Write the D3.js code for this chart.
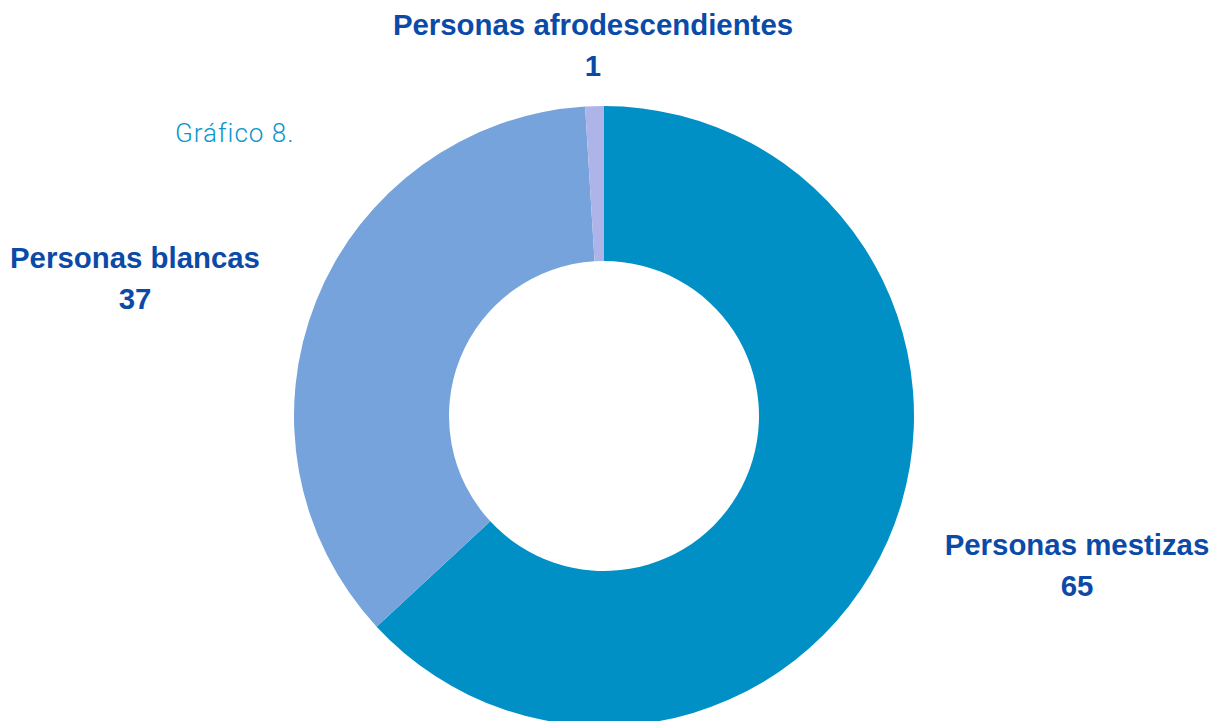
<!DOCTYPE html>
<html>
<head>
<meta charset="utf-8">
<script src="https://cdn.jsdelivr.net/npm/d3@7"></script>
<style>
    body { margin: 0; background: #fff; }
    svg { display: block; }
</style>
</head>
<body>
<svg id="chart" width="1212" height="721"></svg>
<script>
// Chart data
const categories = ["Personas mestizas", "Personas blancas", "Personas afrodescendientes"];
const values = [65, 37, 1];
const colors = ["#0090C6", "#76A3DC", "#AFB4E8"];

// Where each label block sits (centre x, baseline of first line)
const labelPos = [[1077, 555], [135, 268], [593, 35]];

const svg = d3.select("#chart");

const cx = 604;
const cy = 416;
const outerR = 310;
const innerR = 155;

// Pie layout | keep data order, clockwise from 12 o'clock
const pie = d3.pie().sort(null).value((d) => d.value);
const arcs = pie(categories.map((c, i) => ({ name: c, value: values[i], color: colors[i] })));
const arc = d3.arc().innerRadius(innerR).outerRadius(outerR);

svg.append("g")
    .attr("transform", `translate(${cx},${cy})`)
    .selectAll("path")
    .data(arcs)
    .enter()
    .append("path")
    .attr("d", arc)
    .attr("fill", (d) => d.data.color);

// Labels: category name + value, two centred lines
const labels = svg.append("g")
    .selectAll("text")
    .data(arcs)
    .enter()
    .append("text")
    .attr("text-anchor", "middle")
    .attr("font-family", "'Liberation Sans', Arial, sans-serif")
    .attr("font-weight", "bold")
    .attr("font-size", 29.4)
    .attr("fill", "#0B4BA7");

labels.append("tspan")
    .attr("x", (d, i) => labelPos[i][0])
    .attr("y", (d, i) => labelPos[i][1])
    .text((d) => d.data.name);

labels.append("tspan")
    .attr("x", (d, i) => labelPos[i][0])
    .attr("y", (d, i) => labelPos[i][1] + 41)
    .text((d) => d.data.value);

// Caption
svg.append("text")
    .attr("x", 175)
    .attr("y", 142)
    .attr("font-family", "Roboto, sans-serif")
    .attr("font-weight", 300)
    .attr("font-size", 26)
    .attr("letter-spacing", 1)
    .attr("fill", "#0A96CC")
    .text("Gráfico 8.");
</script>
</body>
</html>
